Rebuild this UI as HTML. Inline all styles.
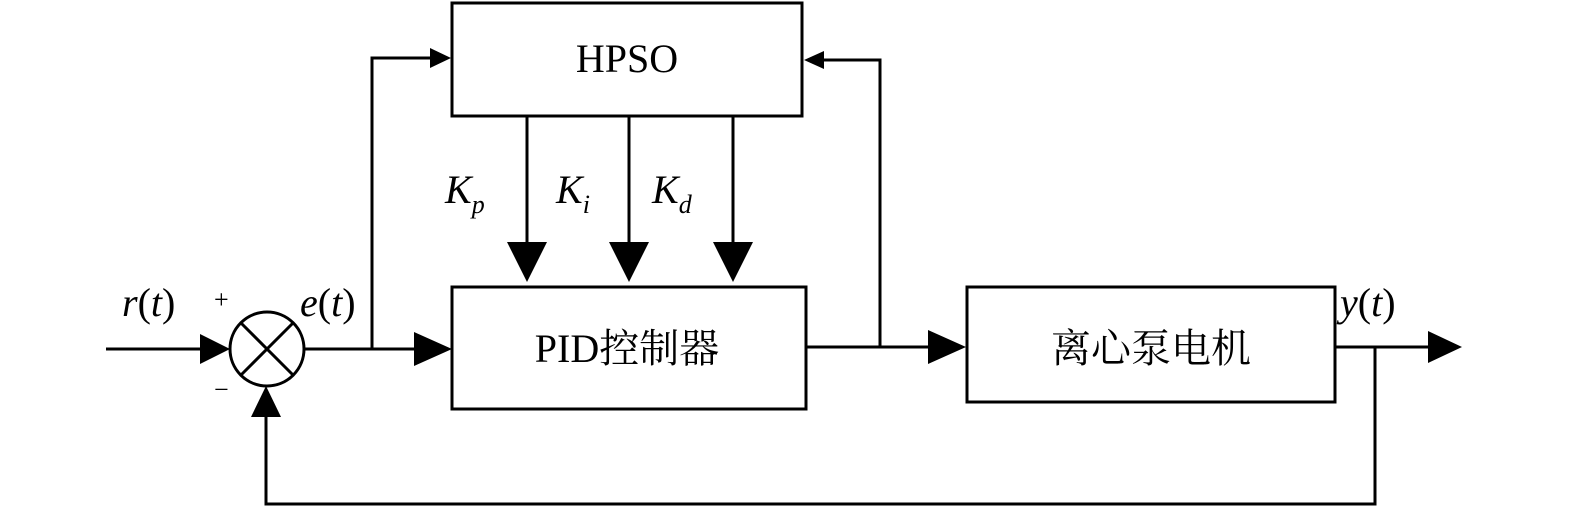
<!DOCTYPE html>
<html><head><meta charset="utf-8"><style>
html,body{margin:0;padding:0;background:#fff;}
svg{display:block;}
text{font-family:"Liberation Serif","Noto Serif CJK SC","Noto Sans CJK SC",serif;fill:#000;}
</style></head><body>
<svg width="1575" height="511" viewBox="0 0 1575 511" xmlns="http://www.w3.org/2000/svg">
<g fill="none" stroke="#000" stroke-width="3">
<rect x="452" y="3" width="350" height="113"/>
<rect x="452" y="287" width="354" height="122"/>
<rect x="967" y="287" width="368" height="115"/>
<circle cx="267" cy="349" r="37"/>
<line x1="241" y1="323" x2="293" y2="375"/>
<line x1="293" y1="323" x2="241" y2="375"/>
<!-- input -->
<line x1="106" y1="349" x2="205" y2="349"/>
<!-- sum to PID -->
<line x1="304" y1="349" x2="420" y2="349"/>
<!-- branch up to HPSO -->
<polyline points="372,349 372,58 435,58"/>
<!-- K lines -->
<line x1="527" y1="116" x2="527" y2="245"/>
<line x1="629" y1="116" x2="629" y2="245"/>
<line x1="733" y1="116" x2="733" y2="245"/>
<!-- PID to motor -->
<line x1="806" y1="347" x2="930" y2="347"/>
<polyline points="880,347 880,60 820,60"/>
<!-- output -->
<line x1="1335" y1="347" x2="1430" y2="347"/>
<polyline points="1375,347 1375,504 266,504 266,415"/>
</g>
<g fill="#000">
<polygon points="230,349 200,334 200,364"/>
<polygon points="452,349 414,332 414,366"/>
<polygon points="451,58 430,48 430,68"/>
<polygon points="804,60 824,51 824,69"/>
<polygon points="527,282 507,242 547,242"/>
<polygon points="629,282 609,242 649,242"/>
<polygon points="733,282 713,242 753,242"/>
<polygon points="966,347 928,330 928,364"/>
<polygon points="1462,347 1428,331 1428,363"/>
<polygon points="266,386 251,417 281,417"/>
</g>
<text x="627" y="72" font-size="40" text-anchor="middle">HPSO</text>
<text x="627" y="362" font-size="40" text-anchor="middle">PID控制器</text>
<text x="1151" y="362" font-size="40" text-anchor="middle">离心泵电机</text>
<text x="445" y="203" font-size="40" font-style="italic">K<tspan font-size="26" dy="10">p</tspan></text>
<text x="556" y="203" font-size="40" font-style="italic">K<tspan font-size="26" dy="10">i</tspan></text>
<text x="652" y="203" font-size="40" font-style="italic">K<tspan font-size="26" dy="10">d</tspan></text>
<text x="122" y="316" font-size="40"><tspan font-style="italic">r</tspan>(<tspan font-style="italic">t</tspan>)</text>
<text x="300" y="316" font-size="40"><tspan font-style="italic">e</tspan>(<tspan font-style="italic">t</tspan>)</text>
<text x="1340" y="316" font-size="40"><tspan font-style="italic">y</tspan>(<tspan font-style="italic">t</tspan>)</text>
<text x="214" y="308" font-size="26">+</text>
<text x="214" y="398" font-size="26">−</text>
</svg>
</body></html>
